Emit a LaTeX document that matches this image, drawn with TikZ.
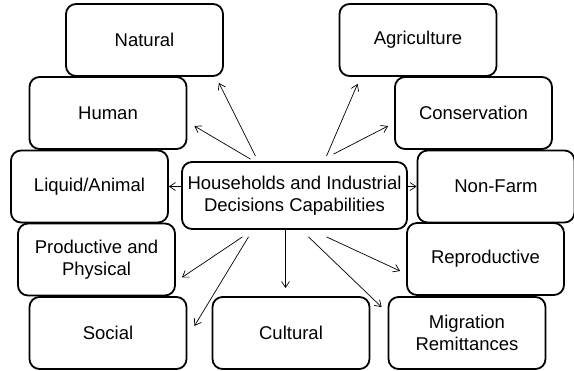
\documentclass[tikz,border=0pt]{standalone}
\usepackage{fontspec}
\setmainfont{Liberation Sans}
\usetikzlibrary{arrows.meta}

\begin{document}
\begin{tikzpicture}[
    x=1pt, y=-1pt, % one unit = one pixel of the layout, y going down
    font=\fontsize{18.5}{22}\selectfont,
    box/.style={
        rectangle,
        draw,
        rounded corners=10pt,
        line width=1.8pt,
        minimum width=157pt,
        minimum height=72pt,
        align=center
    },
    hub/.style={
        box,
        minimum width=225pt,
        minimum height=67pt
    },
    arr/.style={
        draw,
        -{Straight Barb[length=6pt,width=8pt]},
        line width=0.7pt
    }
]
    \useasboundingbox (0,0) rectangle (574,371);

    % --- Nodes ---

    % Centre
    \node [hub] (hh) at (294.5,195.5) {Households and Industrial\\Decisions Capabilities};

    % Left column
    \node [box] (nat)  at (144.5,40)  {Natural};
    \node [box] (hum)  at (108,113)   {Human};
    \node [box] (liq)  at (89.5,186.5) {Liquid/Animal};
    \node [box] (prod) at (96.5,259.5) {Productive and\\Physical};
    \node [box] (soc)  at (108,333)   {Social};

    % Bottom middle
    \node [box] (cult) at (291,333)   {Cultural};

    % Right column
    \node [box] (agr)  at (418,40)    {Agriculture};
    \node [box] (cons) at (473.5,113) {Conservation};
    \node [box] (nf)   at (496,186.5) {Non-Farm};
    \node [box] (rep)  at (485.5,259) {Reproductive};
    \node [box] (mig)  at (467,333)   {Migration\\Remittances};

    % --- Connections ---

    % upwards
    \path [arr] ([xshift=-39pt,yshift=5pt]hh.north) -- ([xshift=-5pt,yshift=-6pt]nat.south east);
    \path [arr] ([xshift=-44pt,yshift=2pt]hh.north) -- ([xshift=7pt,yshift=-13pt]hum.east);
    \path [arr] ([xshift=32pt,yshift=5pt]hh.north) -- ([xshift=19pt,yshift=-7pt]agr.south west);
    \path [arr] ([xshift=39pt,yshift=7pt]hh.north) -- ([xshift=-6pt,yshift=-13pt]cons.west);

    % sideways
    \path [arr] (hh.west |- liq.east) -- (liq.east);
    \path [arr] (hh.east |- nf.west) -- (nf.west);

    % downwards
    \path [arr] ([xshift=-52pt,yshift=-7pt]hh.south) -- ([xshift=6pt,yshift=-18pt]prod.east);
    \path [arr] ([xshift=-46pt,yshift=-7pt]hh.south) -- ([xshift=7pt,yshift=7pt]soc.east);
    \path [arr] ([xshift=-9pt]hh.south) coordinate (c0) -- ([yshift=8pt]c0 |- cult.north);
    \path [arr] ([xshift=32pt,yshift=-7pt]hh.south) -- ([xshift=-6pt,yshift=-12pt]rep.west);
    \path [arr] ([xshift=14pt,yshift=-7pt]hh.south) -- ([xshift=-6pt,yshift=-11pt]mig.north west);

\end{tikzpicture}
\end{document}
